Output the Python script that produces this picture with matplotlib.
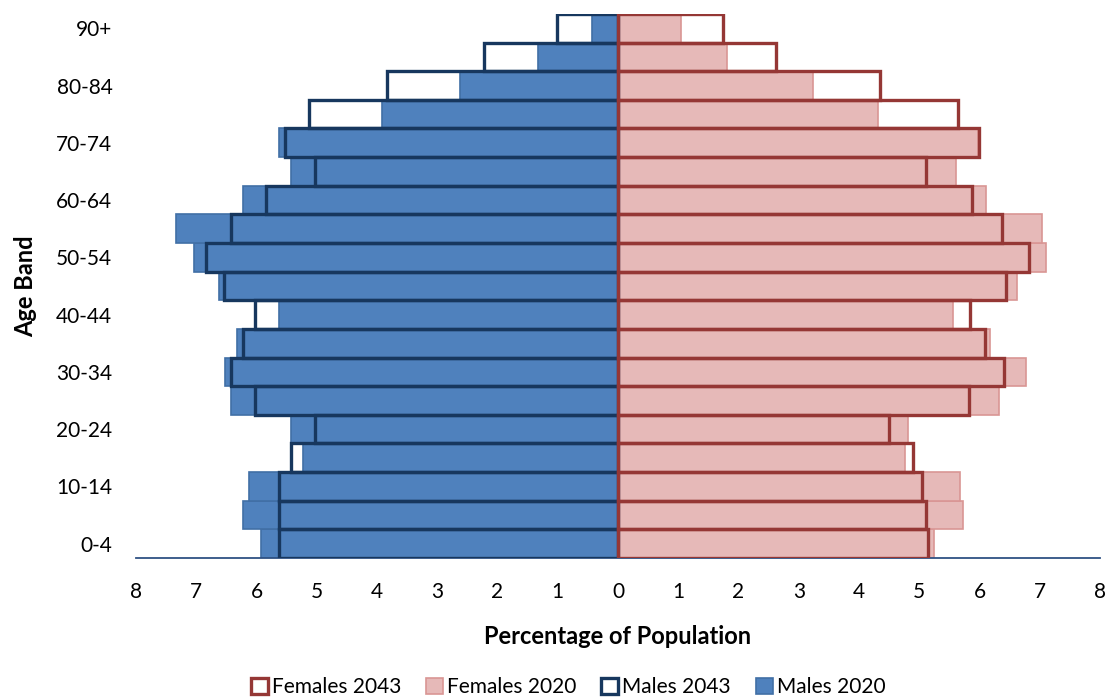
import matplotlib.pyplot as plt
from matplotlib.patches import Patch
import numpy as np

plt.rcParams['font.family'] = ['Lato', 'DejaVu Sans']

age_bands = ['0-4', '5-9', '10-14', '15-19', '20-24', '25-29', '30-34', '35-39',
             '40-44', '45-49', '50-54', '55-59', '60-64', '65-69', '70-74',
             '75-79', '80-84', '85-89', '90+']

males_2020 = [5.93, 6.22, 6.12, 5.23, 5.42, 6.43, 6.53, 6.32, 5.62, 6.63,
              7.03, 7.33, 6.22, 5.42, 5.62, 3.92, 2.62, 1.32, 0.43]
males_2043 = [5.62, 5.62, 5.62, 5.42, 5.03, 6.03, 6.43, 6.22, 6.03, 6.54,
              6.83, 6.43, 5.84, 5.03, 5.53, 5.13, 3.83, 2.23, 1.02]
females_2020 = [5.24, 5.72, 5.68, 4.77, 4.82, 6.33, 6.77, 6.17, 5.56, 6.63,
                7.11, 7.03, 6.10, 5.61, 5.98, 4.31, 3.23, 1.81, 1.05]
females_2043 = [5.15, 5.11, 5.04, 4.89, 4.50, 5.83, 6.41, 6.09, 5.85, 6.44,
                6.83, 6.37, 5.87, 5.12, 6.00, 5.64, 4.35, 2.62, 1.75]

xticks = [-8, -7, -6, -5, -4, -3, -2, -1, 0, 1, 2, 3, 4, 5, 6, 7, 8]

blue = '#4F81BD'
blue_edge = '#416FA6'
pink = '#E6B9B8'
pink_edge = '#D99694'
navy = '#17375E'
red = '#953735'

fig = plt.figure(figsize=(11.12, 6.98), dpi=100)
ax = fig.add_axes([0.1223, 0.2006, 0.8669, 0.7794])

y = np.arange(len(age_bands))
m20 = -np.array(males_2020)
m43 = -np.array(males_2043)

# 2020 populations as filled bars
ax.barh(y, m20, height=1.0, color=blue, edgecolor=blue_edge, linewidth=1.2, zorder=2)
ax.barh(y, females_2020, height=1.0, color=pink, edgecolor=pink_edge, linewidth=1.2, zorder=2)

# 2043 projections as outlines on top
ax.barh(y, m43, height=1.0, facecolor='none', edgecolor=navy, linewidth=2.4, zorder=3)
ax.barh(y, females_2043, height=1.0, facecolor='none', edgecolor=red, linewidth=2.4, zorder=3)

ax.set_xlim(-8, 8)
ax.set_ylim(-0.5, 18.5)
ax.set_xticks(xticks)
ax.set_xticklabels([str(abs(t)) for t in xticks])
ax.set_yticks(y[::2])
ax.set_yticklabels(age_bands[::2])
ax.tick_params(axis='both', length=0, labelsize=15)
ax.tick_params(axis='x', pad=17)
ax.tick_params(axis='y', pad=17)

for side in ['top', 'right', 'left']:
    ax.spines[side].set_visible(False)
ax.spines['bottom'].set_color('#2F5284')
ax.spines['bottom'].set_linewidth(1.3)

ax.set_xlabel('Percentage of Population', fontsize=17, fontweight='bold', labelpad=17)
ax.set_ylabel('Age Band', fontsize=17, fontweight='bold', labelpad=14)

handles = [
    Patch(facecolor='white', edgecolor=red, linewidth=2.4, label='Females 2043'),
    Patch(facecolor=pink, edgecolor=pink_edge, linewidth=1.2, label='Females 2020'),
    Patch(facecolor='white', edgecolor=navy, linewidth=2.4, label='Males 2043'),
    Patch(facecolor=blue, edgecolor=blue_edge, linewidth=1.2, label='Males 2020'),
]
fig.legend(handles=handles, loc='center', bbox_to_anchor=(0.511, 0.016), ncol=4,
           frameon=False, fontsize=15, handlelength=0.8, handleheight=0.8,
           handletextpad=0.2, columnspacing=1.2)

fig.savefig('out.png', dpi=100)
